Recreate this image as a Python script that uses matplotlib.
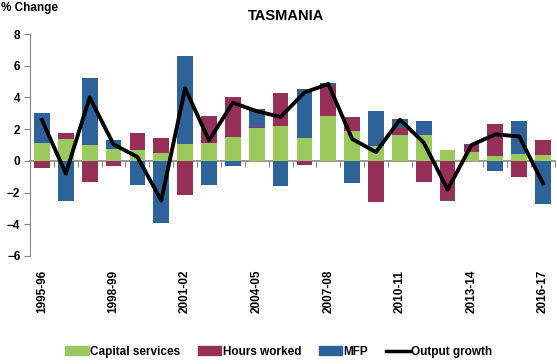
import matplotlib.pyplot as plt
from matplotlib.patches import Patch
from matplotlib.lines import Line2D
import numpy as np

years = ['1995-96', '1996-97', '1997-98', '1998-99', '1999-00', '2000-01',
         '2001-02', '2002-03', '2003-04', '2004-05', '2005-06', '2006-07',
         '2007-08', '2008-09', '2009-10', '2010-11', '2011-12', '2012-13',
         '2013-14', '2014-15', '2015-16', '2016-17']
capital = [1.15, 1.4, 1.0, 0.77, 0.69, 0.5, 1.06, 1.13, 1.5, 2.06, 2.19,
           1.44, 2.81, 1.88, 0.94, 1.63, 1.63, 0.69, 0.56, 0.31, 0.44, 0.38]
hours = [-0.48, 0.35, -1.35, -0.35, 1.06, 0.94, -2.17, 1.69, 2.5, 0.1, 2.12,
         -0.29, 1.96, 0.87, -2.6, 0.42, -1.35, -2.46, 0.44, 2.0, -1.04, 0.94]
mfp = [1.85, -2.56, 4.25, 0.54, -1.54, -3.92, 5.56, -1.54, -0.35, 1.13, -1.6,
       3.12, 0.13, -1.42, 2.19, 0.58, 0.88, -0.08, 0.06, -0.67, 2.06, -2.73]
output = [2.58, -0.8, 4.0, 1.04, 0.25, -2.5, 4.58, 1.29, 3.67, 3.13, 2.77,
          4.31, 4.85, 1.38, 0.55, 2.6, 1.15, -1.81, 1.0, 1.67, 1.54, -1.42]

green = '#9BC95E'
maroon = '#963058'
blue = '#2E6399'

plt.rcParams['font.family'] = ['Liberation Sans', 'DejaVu Sans']
plt.rcParams['font.weight'] = 'bold'

fig = plt.figure(figsize=(5.57, 3.64), dpi=100)
ax = fig.add_axes([30 / 557, 1 - 256 / 364, 525 / 557, 222 / 364])

x = np.arange(len(years))
pos_base = np.zeros(len(years))
neg_base = np.zeros(len(years))
for vals, col in [(capital, green), (hours, maroon), (mfp, blue)]:
    v = np.array(vals)
    bottom = np.where(v >= 0, pos_base, neg_base)
    ax.bar(x, v, 0.66, bottom=bottom, color=col, zorder=2)
    pos_base += np.where(v >= 0, v, 0)
    neg_base += np.where(v < 0, v, 0)

ax.plot(x, output, color='black', linewidth=2.8, zorder=3)

ax.set_xlim(-0.5, len(years) - 0.5)
ax.set_ylim(-6, 8)
ax.set_yticks(range(-6, 9, 2))
ax.tick_params(axis='y', direction='out', length=4, color='#888888',
               labelsize=8.5, pad=3)
for s in ['top', 'right', 'bottom']:
    ax.spines[s].set_visible(False)
ax.spines['left'].set_color('#888888')

ax.set_xticks(x[::3])
ax.set_xticklabels(years[::3], rotation=90, fontsize=8.5)
ax.tick_params(axis='x', length=0, pad=10)

zero_ax = ax.secondary_xaxis(6 / 14)
zero_ax.set_xticks(np.arange(-0.5, len(years), 1))
zero_ax.tick_params(axis='x', direction='out', length=4, color='#888888',
                    labelbottom=False, labeltop=False)
zero_ax.spines['bottom'].set_color('#888888')
zero_ax.spines['bottom'].set_linewidth(1.2)

fig.text(0.513, 0.955, 'TASMANIA', ha='center', va='center', fontsize=10.5,
         fontweight='bold')
fig.text(0.002, 0.978, '% Change', ha='left', va='center', fontsize=8.5,
         fontweight='bold')

handles = [Patch(color=green), Patch(color=maroon), Patch(color=blue),
           Line2D([0], [0], color='black', linewidth=2.5)]
fig.legend(handles, ['Capital services', 'Hours worked', 'MFP', 'Output growth'],
           loc='center', bbox_to_anchor=(0.5, 0.033), ncol=4, frameon=False,
           fontsize=8.5, handlelength=2.0, handleheight=0.8, handletextpad=0.1,
           columnspacing=1.5)

fig.savefig('out.png', dpi=100)
